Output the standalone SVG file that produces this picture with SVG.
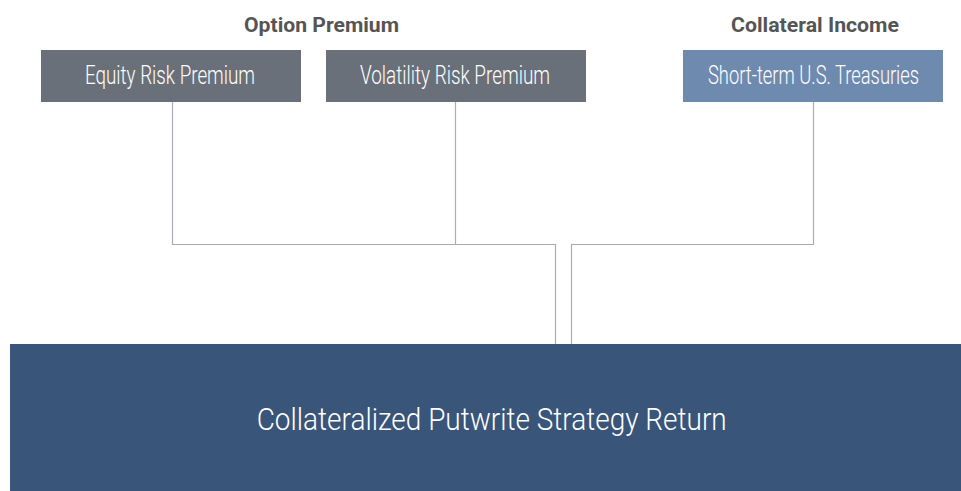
<svg xmlns="http://www.w3.org/2000/svg" width="961" height="491" viewBox="0 0 961 491">
<style>
.title{font-family:Roboto,"Liberation Sans",sans-serif;font-weight:700;font-size:20px;fill:#555555;text-anchor:middle}
.lbl{font-family:Roboto,"Liberation Sans",sans-serif;font-weight:300;font-size:25px;fill:#ffffff;text-anchor:middle}
.big{font-family:Roboto,"Liberation Sans",sans-serif;font-weight:300;font-size:31px;fill:#ffffff;text-anchor:middle}
.gray{fill:#6a7079}
.blue{fill:#6f8aaf}
.dark{fill:#39557a}
.conn{fill:none;stroke:#a9adb5;stroke-width:1.2}
</style>
<rect width="961" height="491" fill="#ffffff"/>
<g id="connectors">
<path class="conn" d="M172.5 102 V244.5 H555.5 V344"/>
<path class="conn" d="M455.5 102 V244.5"/>
<path class="conn" d="M813.5 102 V244.5 H571.5 V344"/>
</g>
<g id="title-option">
<text class="title" x="321.5" y="32" textLength="155" lengthAdjust="spacingAndGlyphs">Option Premium</text>
</g>
<g id="title-collateral">
<text class="title" x="815" y="32" textLength="168" lengthAdjust="spacingAndGlyphs">Collateral Income</text>
</g>
<g id="equity">
<rect class="gray" x="41" y="50" width="260" height="52"/>
<text class="lbl" x="170" y="84" textLength="170" lengthAdjust="spacingAndGlyphs">Equity Risk Premium</text>
</g>
<g id="volatility">
<rect class="gray" x="326" y="50" width="260" height="52"/>
<text class="lbl" x="455" y="84" textLength="190" lengthAdjust="spacingAndGlyphs">Volatility Risk Premium</text>
</g>
<g id="treasuries">
<rect class="blue" x="683" y="50" width="260" height="52"/>
<text class="lbl" x="813.5" y="84" textLength="211" lengthAdjust="spacingAndGlyphs">Short-term U.S. Treasuries</text>
</g>
<g id="strategy">
<rect class="dark" x="10" y="344" width="951" height="147"/>
<text class="big" x="491.7" y="430" textLength="470" lengthAdjust="spacingAndGlyphs">Collateralized Putwrite Strategy Return</text>
</g>
</svg>
